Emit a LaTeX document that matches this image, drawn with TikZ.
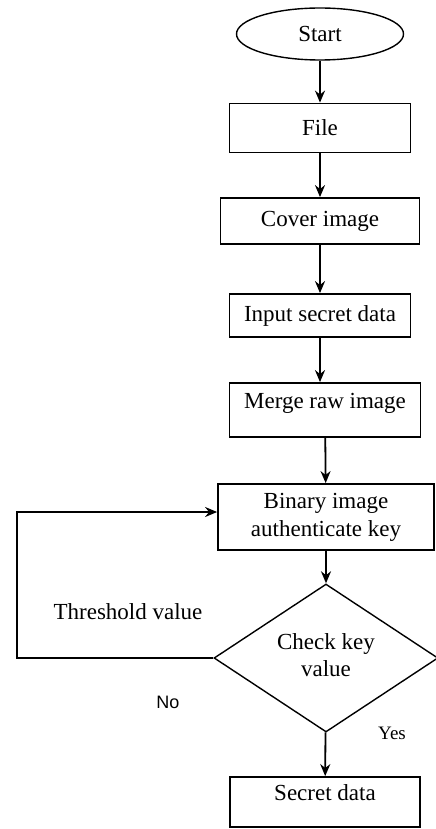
\documentclass[tikz,border=0pt]{standalone}
\usepackage{fontspec}
\setmainfont{Liberation Serif}
\newfontfamily\labelsans{Liberation Sans}
\usetikzlibrary{shapes.geometric,positioning,arrows.meta}

\begin{document}
\begin{tikzpicture}[x=0.5pt, y=-0.5pt, ->, >={Stealth[length=6pt,width=5pt]}, line width=0.9pt,
		font=\fontsize{11.5}{14}\selectfont,
		block/.style={draw, rectangle, inner sep=2pt, align=center},
		terminal/.style={draw, ellipse, line width=0.7pt, minimum width=83.5pt, minimum height=26pt, inner sep=0pt},
		decision/.style={draw, diamond, aspect=1.5, line width=0.7pt, minimum width=112pt, minimum height=74pt, inner sep=0pt, align=center},
		toptext/.style={text height=8pt, text depth=10pt}]
		\useasboundingbox (0,0) rectangle (435,829);

		\node[terminal] (start) at (320,34) {Start};
		\node[block, minimum width=90.5pt, minimum height=24.5pt, node distance=47pt] (file) [below of=start] {File};
		\node[block, minimum width=99.5pt, minimum height=23pt, node distance=46.5pt] (cov) [below of=file] {Cover image};
		\node[block, minimum width=90.5pt, minimum height=21.5pt, node distance=47.25pt] (inp) [below of=cov] {Input secret data};
		\node[block, toptext, minimum width=95.5pt, minimum height=27pt, node distance=47.25pt, xshift=2.5pt] (mrg) [below of=inp] {Merge raw image};
		\node[block, minimum width=108pt, minimum height=33pt, node distance=53.5pt, xshift=0.5pt] (bin) [below of=mrg] {Binary image\\authenticate key};
		\node[decision, node distance=70.5pt] (chk) [below of=bin] {\raisebox{3pt}{\shortstack{Check key\\value}}};
		\node[block, toptext, minimum width=95pt, minimum height=25pt, node distance=72pt, xshift=-0.5pt] (sec) [below of=chk] {Secret data};

		\node (thr) at (128,612) {Threshold value};
		\node[font=\labelsans\fontsize{9}{10}\selectfont] (no) at (168,702) {No};
		\node[font=\fontsize{9.5}{11}\selectfont] (yes) at (392,733) {Yes};
		\coordinate (back) at (17,512);

		\draw (start) -- (file);
		\draw (file) -- (cov);
		\draw (cov) -- (inp);
		\draw (inp) -- (inp |- mrg.north);
		\draw (mrg) -- (bin);
		\draw (bin) -- (chk);
		\draw (chk) -- (sec);
		\draw (chk.west) -- (chk.west -| back) -- (back) -- ([yshift=2.5pt]bin.west);
	\end{tikzpicture}
\end{document}
